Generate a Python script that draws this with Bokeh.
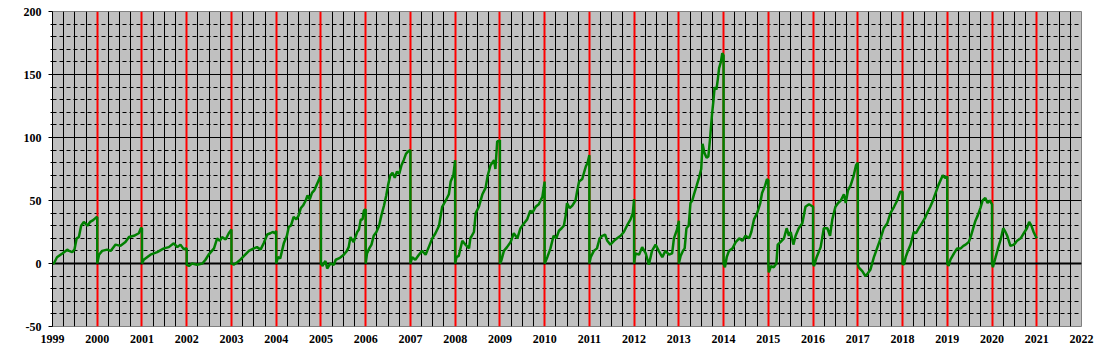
from bokeh.plotting import figure
from bokeh.models import Range1d, FixedTicker, Grid, Span, ColumnDataSource
from bokeh.embed import file_html
from bokeh.resources import INLINE

# Within-year cumulative values: (fraction of year, value)
y1999 = [(0,0),(0.03,0),(0.1,5),(0.22,8),(0.33,11),(0.37,10),(0.44,9),(0.49,11),(0.54,20),(0.59,21),(0.64,30),(0.7,33),(0.78,30),(0.84,33),(0.89,34),(0.96,36),(1.0,37)]
y2000 = [(0,0),(0.04,7),(0.11,10),(0.22,11),(0.3,10),(0.41,15),(0.52,14),(0.63,17),(0.71,21),(0.82,22),(0.93,24),(0.975,28),(1.0,28)]
y2001 = [(0,0),(0.04,3),(0.19,7),(0.34,9),(0.49,12),(0.6,13),(0.71,16),(0.79,13),(0.86,15),(0.94,11),(0.97,12),(1.0,12)]
y2002 = [(0,-1),(0.05,-2),(0.12,0),(0.23,-1),(0.35,0),(0.42,3),(0.49,7),(0.61,12),(0.68,20),(0.74,18),(0.79,21),(0.87,19),(0.94,24),(1.0,27)]
y2003 = [(0,0),(0.05,-1),(0.13,1),(0.2,3),(0.28,6),(0.39,10),(0.5,12),(0.57,13),(0.65,11),(0.72,16),(0.8,23),(0.87,24),(0.92,25),(0.98,24),(1.0,26)]
y2004 = [(0,0),(0.04,5),(0.09,4),(0.13,10),(0.17,16),(0.24,22),(0.28,29),(0.33,30),(0.39,37),(0.45,35),(0.5,38),(0.55,44),(0.6,46),(0.66,50),(0.7,54),(0.75,51),(0.8,56),(0.85,58),(0.9,62),(0.95,66),(0.98,69),(1.0,68)]
y2005 = [(0,0),(0.03,-2),(0.1,2),(0.14,-4),(0.21,0),(0.29,-1),(0.33,3),(0.4,4),(0.44,5),(0.51,7),(0.58,10),(0.62,13),(0.66,21),(0.73,17),(0.81,25),(0.85,27),(0.89,35),(0.93,35),(0.96,42),(1.0,43)]
y2006 = [(0,0),(0.03,8),(0.08,12),(0.13,15),(0.18,22),(0.24,25),(0.3,30),(0.35,38),(0.41,46),(0.46,54),(0.5,62),(0.55,70),(0.6,72),(0.65,68),(0.7,73),(0.75,71),(0.8,78),(0.85,82),(0.9,87),(0.95,89),(1.0,90)]
y2007 = [(0,0),(0.04,5),(0.11,3),(0.19,7),(0.26,10),(0.34,7),(0.41,13),(0.49,20),(0.56,24),(0.64,30),(0.71,45),(0.79,50),(0.86,55),(0.9,65),(0.96,70),(1.0,82)]
y2008 = [(0,0),(0.03,5),(0.08,6),(0.16,18),(0.23,15),(0.31,12),(0.34,20),(0.42,25),(0.46,40),(0.53,45),(0.61,55),(0.68,60),(0.73,70),(0.79,78),(0.87,82),(0.9,75),(0.94,97),(0.98,97),(1.0,98)]
y2009 = [(0,0),(0.03,2),(0.09,10),(0.16,13),(0.24,17),(0.31,24),(0.39,20),(0.46,28),(0.54,32),(0.61,35),(0.68,42),(0.72,40),(0.8,45),(0.87,47),(0.95,53),(1.0,65)]
y2010 = [(0,0),(0.06,5),(0.13,12),(0.2,22),(0.26,20),(0.32,26),(0.38,28),(0.43,30),(0.47,38),(0.5,48),(0.56,44),(0.62,46),(0.69,50),(0.73,58),(0.77,65),(0.84,67),(0.88,72),(0.92,77),(0.96,80),(1.0,86)]
y2011 = [(0,0),(0.03,5),(0.1,10),(0.17,12),(0.23,20),(0.29,22),(0.35,23),(0.4,18),(0.47,15),(0.55,18),(0.62,20),(0.7,22),(0.77,25),(0.84,30),(0.92,35),(0.97,40),(1.0,51)]
y2012 = [(0,0),(0.03,8),(0.11,7),(0.18,13),(0.26,8),(0.33,-1),(0.4,10),(0.48,15),(0.55,10),(0.63,5),(0.7,10),(0.78,7),(0.85,8),(0.89,20),(0.96,27),(1.0,34)]
y2013 = [(0,0),(0.04,6),(0.09,10),(0.13,12),(0.17,28),(0.22,30),(0.26,48),(0.3,50),(0.34,55),(0.4,62),(0.45,68),(0.5,75),(0.53,95),(0.57,88),(0.62,84),(0.66,85),(0.7,100),(0.74,118),(0.77,128),(0.8,140),(0.84,138),(0.87,146),(0.9,155),(0.94,160),(0.97,167),(1.0,165)]
y2014 = [(0,0),(0.03,-3),(0.07,5),(0.12,10),(0.2,12),(0.27,17),(0.35,20),(0.42,18),(0.49,22),(0.57,20),(0.62,25),(0.68,35),(0.75,40),(0.82,48),(0.86,56),(0.93,62),(0.97,67),(1.0,66)]
y2015 = [(0,0),(0.01,-7),(0.06,-2),(0.12,-3),(0.18,0),(0.21,15),(0.27,17),(0.35,20),(0.41,28),(0.46,22),(0.5,25),(0.56,15),(0.61,22),(0.68,28),(0.76,32),(0.83,45),(0.91,47),(1.0,45)]
y2016 = [(0,0),(0.02,-2),(0.08,5),(0.17,13),(0.24,28),(0.32,28),(0.38,22),(0.43,35),(0.5,45),(0.56,48),(0.62,50),(0.69,55),(0.73,48),(0.78,58),(0.84,62),(0.91,70),(0.96,78),(1.0,80)]
y2017 = [(0,0),(0.02,-3),(0.1,-6),(0.17,-10),(0.22,-8),(0.28,-5),(0.36,5),(0.43,12),(0.51,20),(0.58,28),(0.66,32),(0.73,40),(0.81,45),(0.88,50),(0.95,57),(1.0,57)]
y2018 = [(0,0),(0.03,-1),(0.07,5),(0.12,10),(0.18,15),(0.25,25),(0.3,24),(0.36,28),(0.4,30),(0.45,33),(0.5,36),(0.55,40),(0.62,45),(0.68,50),(0.74,56),(0.8,62),(0.85,66),(0.9,70),(0.95,68),(1.0,69)]
y2019 = [(0,0),(0.03,-2),(0.07,3),(0.15,8),(0.22,12),(0.3,12),(0.36,14),(0.41,15),(0.48,17),(0.53,22),(0.58,28),(0.63,34),(0.68,38),(0.74,44),(0.79,50),(0.85,52),(0.9,48),(0.95,50),(1.0,47)]
y2020 = [(0,0),(0.02,-3),(0.08,5),(0.15,14),(0.2,20),(0.25,28),(0.3,25),(0.34,22),(0.41,14),(0.49,15),(0.56,18),(0.64,20),(0.71,24),(0.78,28),(0.83,33),(0.88,30),(0.93,25),(0.97,22),(1.0,20)]

segments = {1999: y1999, 2000: y2000, 2001: y2001, 2002: y2002, 2003: y2003,
            2004: y2004, 2005: y2005, 2006: y2006, 2007: y2007, 2008: y2008,
            2009: y2009, 2010: y2010, 2011: y2011, 2012: y2012, 2013: y2013,
            2014: y2014, 2015: y2015, 2016: y2016, 2017: y2017, 2018: y2018,
            2019: y2019, 2020: y2020}

years = list(range(1999, 2023))
y_ticks = [-50, 0, 50, 100, 150, 200]

xs, ys = [], []
for yr, seg in segments.items():
    for f, v in seg:
        xs.append(yr + f)
        ys.append(v)
src = ColumnDataSource(data=dict(x=xs, y=ys))

p = figure(width=1096, height=352, output_backend="svg", toolbar_location=None,
           x_range=Range1d(1999, 2022), y_range=Range1d(-50, 200),
           min_border_left=52, min_border_right=15, min_border_top=11, min_border_bottom=26)
p.background_fill_color = "#C0C0C0"
p.border_fill_color = "white"
p.outline_line_color = "#808080"
p.outline_line_width = 1

# x axis
p.xaxis.ticker = FixedTicker(ticks=years)
p.xaxis.major_tick_out = 0
p.xaxis.major_tick_in = 0
p.xaxis.minor_tick_out = 0
p.xaxis.minor_tick_in = 0
p.xaxis.axis_line_color = None
p.xaxis.major_label_text_font = "Liberation Serif"
p.xaxis.major_label_text_font_style = "bold"
p.xaxis.major_label_text_font_size = "12px"
p.xaxis.major_label_text_color = "#000000"
p.xaxis.major_label_standoff = 8

# y axis
p.yaxis.ticker = FixedTicker(ticks=y_ticks, minor_ticks=[v for v in range(-50, 201, 10) if v % 50 != 0])
p.yaxis.major_label_overrides = {v: str(v) for v in y_ticks}
p.yaxis.axis_line_color = "black"
p.yaxis.major_tick_out = 4
p.yaxis.major_tick_in = 0
p.yaxis.minor_tick_out = 2
p.yaxis.minor_tick_in = 0
p.yaxis.major_label_text_font = "Liberation Serif"
p.yaxis.major_label_text_font_style = "bold"
p.yaxis.major_label_text_font_size = "12px"
p.yaxis.major_label_text_color = "#000000"
p.yaxis.major_label_standoff = 7

# grids
quarters = [y + q for y in years[:-1] for q in (0.25, 0.5, 0.75)]
p.xgrid.ticker = FixedTicker(ticks=quarters)
p.xgrid.grid_line_color = "black"
p.xgrid.grid_line_width = 1
p.xgrid.grid_line_alpha = 1

p.ygrid.grid_line_color = "black"
p.ygrid.grid_line_width = 1
p.ygrid.grid_line_alpha = 1
p.ygrid.minor_grid_line_color = "black"
p.ygrid.minor_grid_line_dash = "4 3"
p.ygrid.minor_grid_line_width = 1

red_grid = Grid(dimension=0, ticker=FixedTicker(ticks=years[1:]),
                grid_line_color="#FF0000", grid_line_width=2)
p.add_layout(red_grid)

zero = Span(location=0, dimension="width", line_color="black", line_width=2, level="underlay")
p.add_layout(zero)

p.line("x", "y", source=src, line_color="#008000", line_width=2.5)

open("out.html", "w").write(file_html(p, INLINE))
